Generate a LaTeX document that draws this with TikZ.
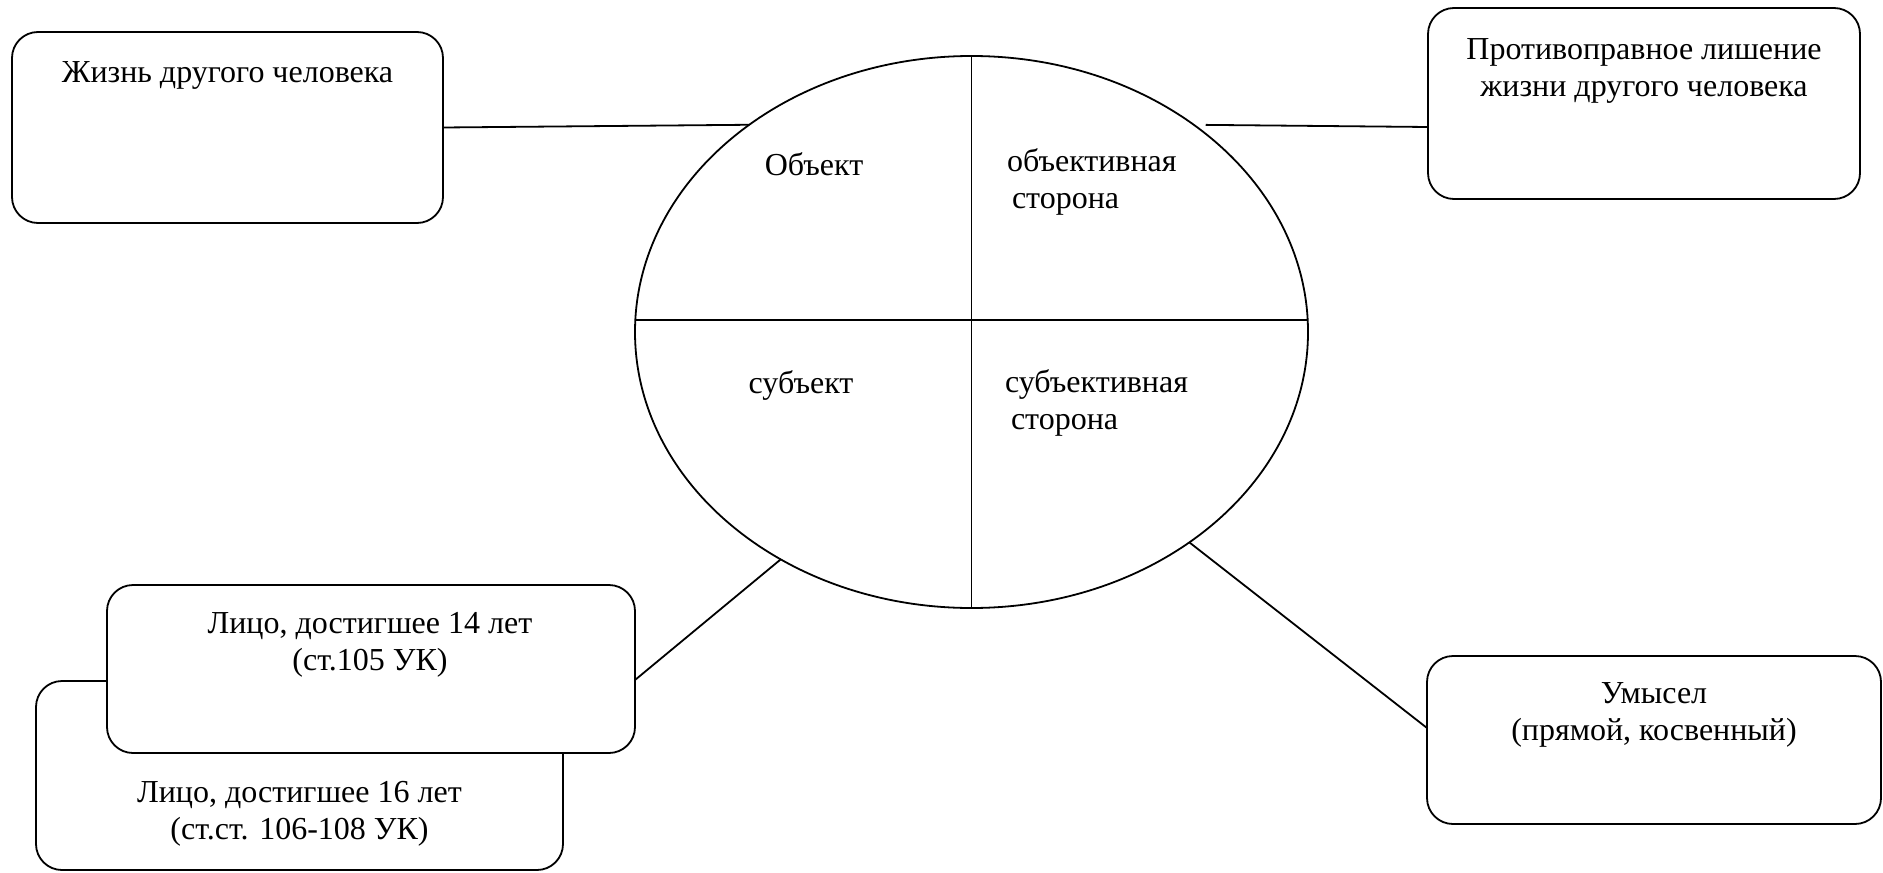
\documentclass[tikz,border=0pt]{standalone}
\usepackage{fontspec}
\setmainfont{Liberation Serif}
\usetikzlibrary{shapes.geometric}

\begin{document}
\begin{tikzpicture}
  [x=0.5pt,y=-0.5pt,line width=0.9pt,
   every node/.style={inner sep=0pt,outer sep=0pt,font=\fontsize{16}{18.3}\selectfont},
   box/.style={draw,rounded corners=13pt,fill=white},
   txt/.style={align=center}]
  \useasboundingbox (0,0) rectangle (1883,872);

  \node[ellipse,draw,minimum width=336.5pt,minimum height=276pt] (ell) at (971.5,332) {};
  \draw (ell.north) -- (ell.south);
  \draw (ell.178) -- (ell.2);

  \node (objT) at (814,164) {Объект};
  \node[anchor=west,align=left] (objsideT) at (1007,182) {объективная\\\hspace*{2.5pt}сторона};
  \node (subjT) at (801,385) {субъект};
  \node[anchor=west,align=left] (subjsideT) at (1005,403) {субъективная\\\hspace*{3pt}сторона};

  \node[box,minimum width=215.5pt,minimum height=95.5pt] (life) at (227.5,127.5) {};
  \node[txt] (lifeT) at (227.5,75) {Жизнь другого человека};

  \node[box,minimum width=216pt,minimum height=95.5pt] (kill) at (1644,103.5) {};
  \node[txt] (killT) at (1644,71) {Противоправное лишение\\жизни другого человека};

  \node[box,minimum width=263.5pt,minimum height=94.5pt] (adult) at (299.5,775.5) {};
  \node[txt] (adultT) at (299.5,814) {Лицо, достигшее 16 лет\\(ст.ст. 106-108 УК)};

  \node[box,minimum width=264pt,minimum height=84pt] (young) at (371,669) {};
  \node[txt] (youngT) at (370,645) {Лицо, достигшее 14 лет\\(ст.105 УК)};

  \node[box,minimum width=227pt,minimum height=84pt] (intent) at (1654,740) {};
  \node[txt] (intentT) at (1654,715) {Умысел\\(прямой, косвенный)};

  \draw (life.east) -- (ell.137);
  \draw[shorten <=6pt] (ell.43) -- ([yshift=-11.75pt]kill.west);
  \draw (ell.230) -- ([yshift=-5.5pt]young.east);
  \draw (ell.316) -- ([yshift=6pt]intent.west);

\end{tikzpicture}
\end{document}
